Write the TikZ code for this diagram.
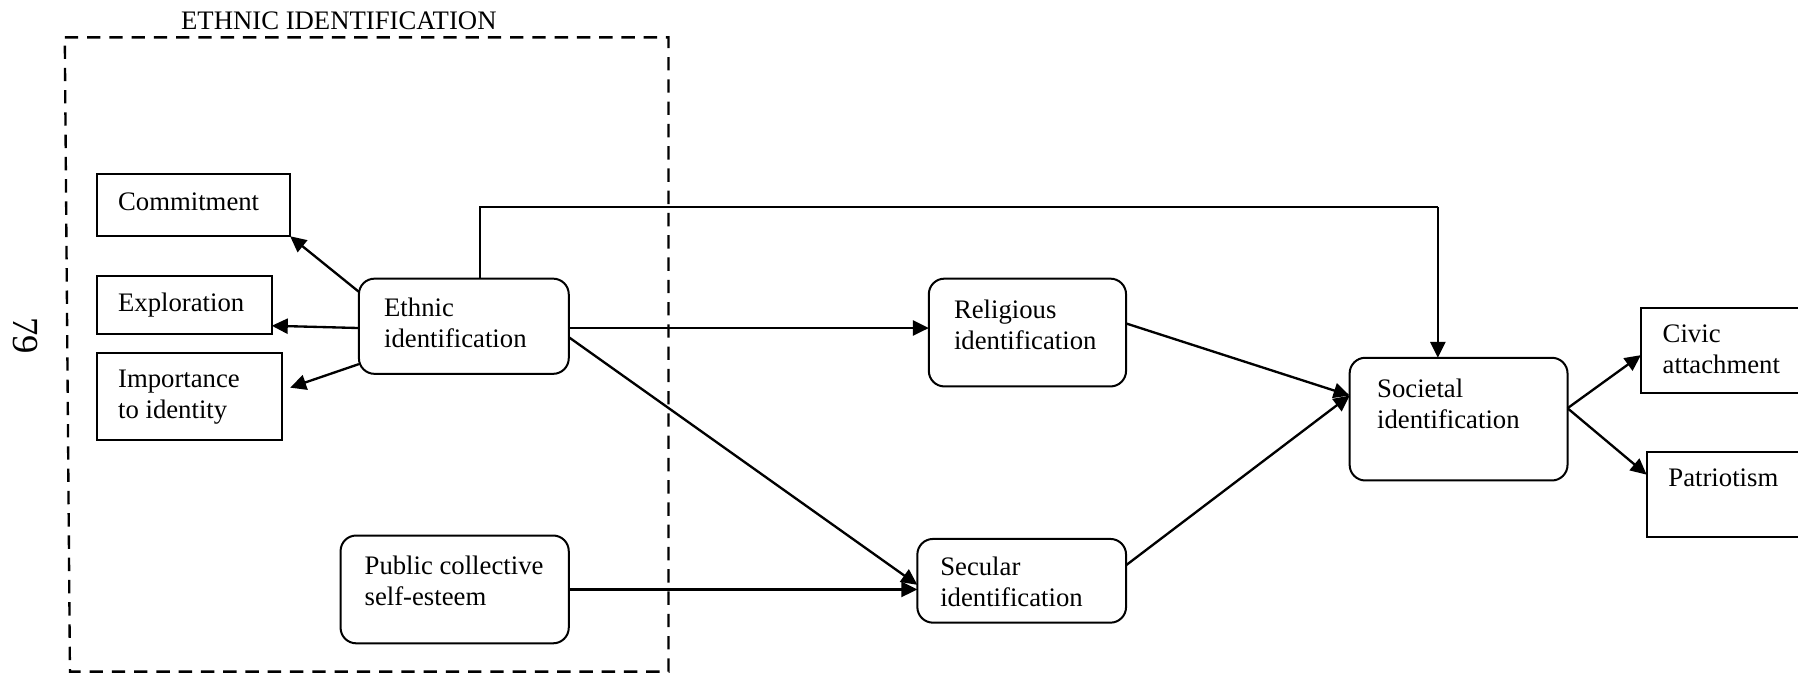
\documentclass[tikz,border=0pt]{standalone}
\usepackage{fontspec}
\setmainfont{Liberation Serif}
\usetikzlibrary{arrows.meta}
\newdimen\pxdim
\pxdim=0.515pt
% box content: width, height, left indent, first baseline (in drawing units), text
\newcommand{\figcell}[5]{%
  \parbox[t][#2\pxdim][t]{#1\pxdim}{\raggedright\leftskip=#3\pxdim\relax
    \vspace*{\dimexpr #4\pxdim-0.7\baselineskip\relax}\strut #5}}
\begin{document}
\begin{tikzpicture}[x=0.515pt, y=-0.515pt,
  font=\fontsize{12}{13.9}\selectfont,
  sq/.style={draw, line width=0.9pt, inner sep=0pt, outer sep=0pt, anchor=north west},
  rd/.style={sq, rounded corners=7pt},
  arr/.style={line width=1.05pt, -{Triangle[length=7.2pt,width=6.8pt]}},
  link/.style={line width=0.65pt},
  groupframe/.style={line width=1.05pt, dash pattern=on 6pt off 4pt}]
\useasboundingbox (0,0) rectangle (1568,587);

% group frame and its heading
\draw[groupframe] (56.5,32.6) -- (583,32.6) -- (583,585.7) -- (61,585.7) -- cycle;
\node[anchor=base] (title) at (295.5,26) {ETHNIC IDENTIFICATION};

% page number
\node[rotate=-90, font=\fontsize{16.5}{20}\selectfont] (pagenum) at (22,293) {79};

% indicator boxes
\node[sq] (com) at (85,152) {\figcell{168}{54}{18}{31.4}{Commitment}};
\node[sq] (exp) at (85,241) {\figcell{152}{50}{18}{31}{Exploration}};
\node[sq] (imp) at (85,308) {\figcell{161}{76}{18}{30}{Importance\\to identity}};

% constructs
\node[rd] (eth) at (313,243) {\figcell{183}{83}{22}{33}{Ethnic\\identification}};
\node[rd] (pub) at (297,467) {\figcell{199}{94}{21}{34}{Public collective\\self-esteem}};
\node[rd] (rel) at (810,243) {\figcell{172}{94}{22}{35}{Religious\\identification}};
\node[rd] (sec) at (800,470) {\figcell{182}{73}{20}{32}{Secular\\identification}};
\node[rd] (soc) at (1177,312) {\figcell{190}{107}{24}{35}{Societal\\identification}};

% outcome boxes
\node[sq] (civ) at (1431,269) {\figcell{160}{74}{19}{30}{Civic\\attachment}};
\node[sq] (pat) at (1436,394) {\figcell{160}{74}{19}{30}{Patriotism}};

% ethnic identification to its indicators
\coordinate (ethA) at ([yshift=15.45pt]eth.west);
\draw[arr] (ethA) -- (com.south east);
\draw[arr] ([yshift=-0.8pt]eth.west) -- ([yshift=-9.3pt]exp.east);
\coordinate (impTip) at ([xshift=3.6pt,yshift=4.1pt]imp.east);
\draw[arr] ([yshift=-17pt]eth.west) -- (impTip);

% direct path from ethnic to societal identification
\coordinate (ethTop) at ([xshift=7.3pt]eth.north);
\coordinate (socTop) at ([xshift=-9.3pt]soc.north);
\draw[link] (ethTop) -- (ethTop |- 0,180.5) coordinate (bendA)
  -- (socTop |- 0,180.5) coordinate (bendB);
\draw[arr] (bendB) -- (socTop);

% paths to religious and secular identification
\coordinate (ethR) at ([yshift=-0.8pt]eth.east);
\draw[arr] (ethR) -- (ethR -| rel.west);
\draw[arr] ([yshift=-4.9pt]eth.east) -- ([yshift=-1.8pt]sec.west);
\draw[arr] (pub.east) -- (pub.east -| sec.west);

% paths into societal identification
\coordinate (socIn) at ([yshift=10.6pt]soc.west);
\draw[arr] ([yshift=4.1pt]rel.east) -- (socIn);
\draw[arr] ([yshift=7pt]sec.east) -- (socIn);

% paths out of societal identification
\coordinate (socOut) at ([yshift=4.9pt]soc.east);
\draw[arr] (socOut) -- ([yshift=-1.9pt]civ.west);
\draw[arr] (socOut) -- ([yshift=8.8pt]pat.west);
\end{tikzpicture}
\end{document}
